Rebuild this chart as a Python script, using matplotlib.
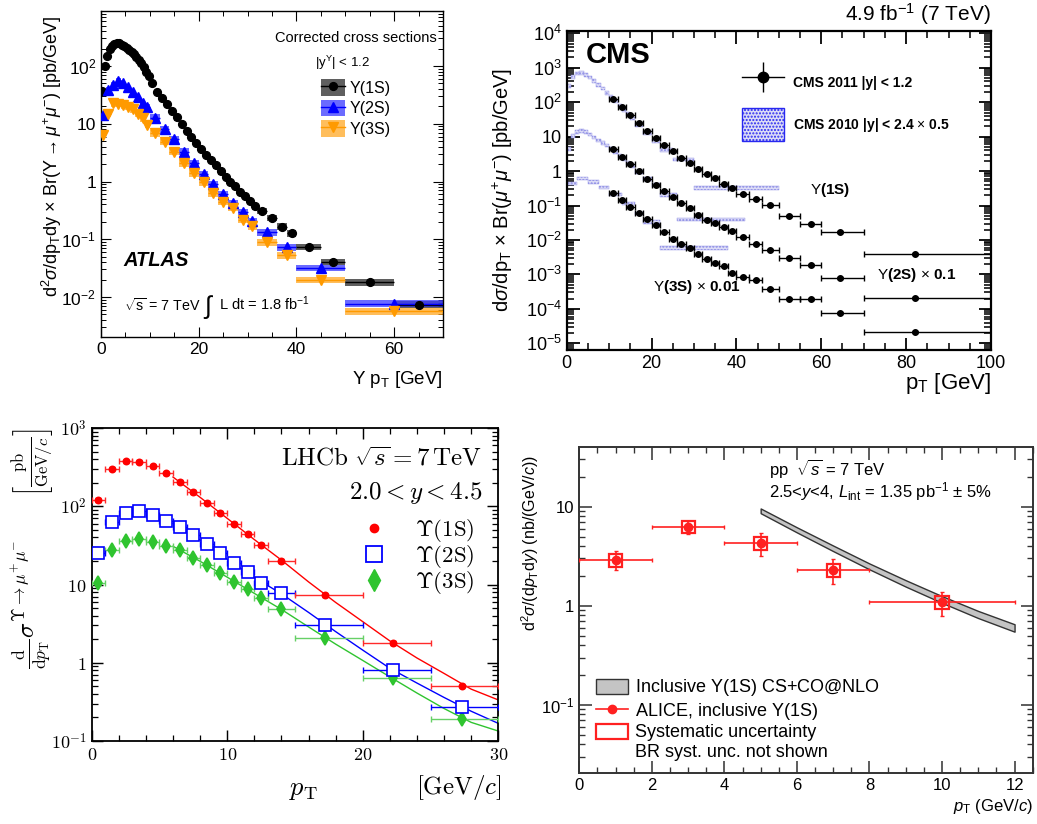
import numpy as np
import matplotlib
matplotlib.use("Agg")
import matplotlib.pyplot as plt
from matplotlib.patches import Patch
from matplotlib.lines import Line2D
from matplotlib.legend_handler import HandlerTuple
from matplotlib.ticker import FixedLocator, FuncFormatter, MultipleLocator, LogLocator, NullFormatter

plt.rcParams['font.family'] = ['Liberation Sans', 'DejaVu Sans']
plt.rcParams['mathtext.fontset'] = 'custom'
plt.rcParams['mathtext.rm'] = 'Liberation Sans'
plt.rcParams['mathtext.it'] = 'Liberation Sans:italic'
plt.rcParams['mathtext.bf'] = 'Liberation Sans:bold'
plt.rcParams['mathtext.sf'] = 'Liberation Sans'

# ======================= DATA =======================
# ---- ATLAS (|y|<1.2), pb/GeV ----
atlas_1s_edges = [0, 0.5, 1, 1.5, 2, 2.5, 3, 3.5, 4, 4.5, 5, 5.5, 6, 6.5, 7, 7.5, 8, 8.5, 9, 9.5, 10,
                  11, 12, 13, 14, 15, 16, 17, 18, 19, 20, 21, 22, 23, 24, 25, 26, 27, 28, 29, 30, 31, 32,
                  34, 36, 38, 40, 45, 50, 60, 70]
atlas_1s_vals = [37, 100, 150, 200, 225, 243, 250, 246, 234, 220, 205, 192, 177, 160, 143, 127, 111, 95, 80, 66,
                 51, 36, 28, 21.7, 16.9, 12.9, 9.9, 7.6, 5.8, 4.6, 3.66, 2.92, 2.37, 1.91, 1.51, 1.22, 0.98,
                 0.82, 0.65, 0.55, 0.46, 0.37,
                 0.31, 0.235, 0.166, 0.128, 0.074, 0.041, 0.018, 0.0074]
atlas_23s_edges = [0, 1, 2, 3, 4, 5, 6, 7, 8, 9, 10, 12, 14, 16, 18, 20, 22, 24, 26, 28, 30, 32, 36, 40, 50, 70]
atlas_2s_vals = [14, 38, 46, 55, 50, 43, 36, 29, 22.6, 19.3, 12.8, 8.0, 5.4, 3.3, 2.07, 1.34, 0.90, 0.61,
                 0.42, 0.30, 0.21, 0.131, 0.073, 0.032, 0.0077]
atlas_3s_vals = [6.4, 15, 22.5, 22, 21, 19.5, 18, 15, 12.4, 9.7, 6.8, 4.9, 3.3, 2.07, 1.39, 0.97, 0.63, 0.45,
                 0.35, 0.216, 0.168, 0.088, 0.053, 0.0198, 0.0057]
atlas_labels = ["\u03a5(1S)", "\u03a5(2S)", "\u03a5(3S)"]

# ---- CMS 2011 (|y|<1.2) ----
cms_pt = [11, 13, 15, 17, 19, 21, 23, 25, 27, 29, 31, 33, 35, 37, 39, 41.5, 44.5, 48, 52.5, 57.5, 64.5, 82]
cms_edges = [10, 12, 14, 16, 18, 20, 22, 24, 26, 28, 30, 32, 34, 36, 38, 40, 43, 46, 50, 55, 60, 70, 100]
cms_1s = [120, 74, 42, 25, 15, 9.0, 5.7, 3.8, 2.4, 1.75, 1.15, 0.83, 0.62, 0.43, 0.33, 0.22, 0.155, 0.102,
          0.051, 0.030, 0.017, 0.0039]
cms_2s = [4.3, 2.6, 1.58, 0.98, 0.60, 0.40, 0.26, 0.18, 0.115, 0.085, 0.053, 0.038, 0.032, 0.024, 0.018,
          0.012, 0.0075, 0.0051, 0.0031, 0.0019, 0.00080, 0.00021]
cms_3s = [0.225, 0.144, 0.093, 0.059, 0.040, 0.027, 0.017, 0.011, 0.0078, 0.0058, 0.0038, 0.0029, 0.0021,
          0.0017, 0.00107, 0.00083, 0.00069, 0.00037, 0.00020, 0.00019, 0.000075, 0.000021]
# ---- CMS 2010 (|y|<2.4, x0.5) ----
cms10_1s_edges = [0, 1, 2, 3, 4, 5, 6, 7, 8, 9, 10, 11, 12, 13, 14, 15, 16, 18, 20, 22, 25, 30, 50]
cms10_1s_vals = [300, 550, 680, 700, 620, 520, 410, 320, 250, 185, 140, 105, 80, 60, 45, 34, 22, 13, 7.5,
                 4.2, 2.2, 0.33]
cms10_2s_edges = [0, 1, 2, 3, 4, 5, 6, 7, 8, 9, 10, 11, 12, 13, 14, 15, 16, 18, 20, 22, 26, 42]
cms10_2s_vals = [4.5, 10.5, 13.5, 14.5, 13.5, 11.5, 9.5, 7.8, 6.6, 5.5, 4.6, 3.6, 2.8, 2.2, 1.75, 1.4,
                 0.95, 0.6, 0.4, 0.2, 0.04]
cms10_3s_edges = [0, 2.5, 5, 7.5, 10, 13, 16, 18, 22, 38]
cms10_3s_vals = [0.44, 0.62, 0.49, 0.34, 0.21, 0.115, 0.059, 0.034, 0.0058]

# ---- LHCb (2.0<y<4.5) ----
lhcb_edges = [0, 1, 2, 3, 4, 5, 6, 7, 8, 9, 10, 11, 12, 13, 15, 20, 25, 30]
lhcb_pt = [0.5, 1.5, 2.5, 3.5, 4.5, 5.5, 6.5, 7.5, 8.5, 9.5, 10.5, 11.5, 12.5, 14, 17.2, 22.2, 27.3]
lhcb_1s = [120, 302, 375, 371, 323, 263, 204, 152, 111, 82, 60, 44, 32, 20, 7.3, 1.78, 0.51]
lhcb_2s = [25.4, 63, 83, 86, 78, 65, 54, 43, 33, 25, 19, 14.5, 10.6, 7.7, 3.05, 0.80, 0.27]
lhcb_3s = [10.5, 27.7, 36.5, 38.4, 35, 31, 27.5, 22, 17.9, 14.1, 10.9, 8.7, 6.8, 4.8, 2.1, 0.63, 0.19]
lhcb_fit_pt = [6, 8, 10, 12, 14, 16, 18, 20, 22, 24, 26, 28, 30]
lhcb_fit_1s = [236, 130, 70, 37.5, 20.5, 10.8, 5.9, 3.35, 1.9, 1.15, 0.73, 0.46, 0.335]
lhcb_fit_2s = [60, 37, 21, 12.3, 7.6, 4.4, 2.5, 1.45, 0.85, 0.55, 0.36, 0.24, 0.168]
lhcb_fit_3s = [30.8, 19.8, 12.4, 7.7, 4.8, 2.87, 1.73, 1.07, 0.66, 0.41, 0.26, 0.173, 0.134]

# ---- ALICE (2.5<y<4), nb/(GeV/c) ----
alice_edges = [0, 2, 4, 6, 8, 12]
alice_pt = [1, 3, 5, 7, 10]
alice_vals = [2.9, 6.3, 4.3, 2.3, 1.08]
alice_stat_dn = [0.6, 1.0, 1.1, 0.63, 0.30]
alice_stat_up = [0.7, 0.9, 1.1, 0.69, 0.31]
alice_sys = [0.42, 0.9, 0.62, 0.33, 0.16]
alice_band_pt = [5, 6, 7, 8, 9, 10, 11, 12]
alice_band_hi = [9.6, 6.19, 4.05, 2.67, 1.81, 1.25, 0.885, 0.65]
alice_band_lo = [8.6, 5.5, 3.56, 2.33, 1.56, 1.07, 0.75, 0.547]

# ======================= FIGURE =======================
W, H = 1037, 824
fig = plt.figure(figsize=(W / 100, H / 100), dpi=100)


def axes_px(l, t, r, b):
    return fig.add_axes([l / W, 1 - b / H, (r - l) / W, (b - t) / H])


def ftext(x, y, s, **kw):
    kw.setdefault('va', 'center')
    return fig.text(x / W, 1 - y / H, s, **kw)


def root_ticks(ax, lw, maj=7, mnr=3.5, color='black'):
    ax.tick_params(which='both', direction='in', top=True, right=True, color=color)
    ax.tick_params(which='major', length=maj, width=lw * 0.8)
    ax.tick_params(which='minor', length=mnr, width=lw * 0.7)
    for s in ax.spines.values():
        s.set_linewidth(lw)
        s.set_color(color)


def log_label(v, pos):
    e = int(round(np.log10(v)))
    if e == 0:
        return '1'
    if e == 1:
        return '10'
    return r'$10^{%d}$' % e


def set_log_y(ax, emin, emax, fmt=log_label):
    ax.set_yscale('log')
    ax.yaxis.set_major_locator(FixedLocator([10.0 ** e for e in range(emin, emax + 1)]))
    ax.yaxis.set_major_formatter(FuncFormatter(fmt))
    ax.yaxis.set_minor_locator(LogLocator(base=10, subs=np.arange(2, 10), numticks=100))
    ax.yaxis.set_minor_formatter(NullFormatter())


OVERLAY = {tuple: HandlerTuple(ndivide=1)}

# ----------------------- ATLAS -----------------------
ax1 = axes_px(101, 11, 443, 337)
ax1.set_xlim(0, 70)
set_log_y(ax1, -2, 2)
ax1.set_ylim(2.03e-3, 896)
ax1.xaxis.set_major_locator(MultipleLocator(20))
ax1.xaxis.set_minor_locator(MultipleLocator(5))
root_ticks(ax1, 1.0)
ax1.tick_params(labelsize=12.5)
ATLAS_REL = 0.13
atlas_handles = []
for edges, vals, mk, mc, bc, ms, lab in [
        (atlas_1s_edges, atlas_1s_vals, 'o', 'black', '#2a2a2a', 5.6, atlas_labels[0]),
        (atlas_23s_edges, atlas_2s_vals, '^', '#0000ff', '#3a3aff', 6.8, atlas_labels[1]),
        (atlas_23s_edges, atlas_3s_vals, 'v', '#ff9a00', '#ffa826', 6.8, atlas_labels[2])]:
    e = np.array(edges, float)
    v = np.array(vals, float)
    lo, hi = e[:-1], e[1:]
    c = 0.5 * (lo + hi)
    ax1.bar(lo, v * 2 * ATLAS_REL, bottom=v * (1 - ATLAS_REL), width=hi - lo, align='edge',
            color=bc, alpha=0.75, lw=0, zorder=2)
    ax1.errorbar(c, v, xerr=0.5 * (hi - lo), fmt='none', ecolor=mc, elinewidth=1.0, zorder=3)
    ax1.plot(c, v, ls='none', marker=mk, color=mc, ms=ms, zorder=4)
    atlas_handles.append((Patch(facecolor=bc, alpha=0.75, lw=0),
                          Line2D([], [], color=mc, lw=1),
                          Line2D([], [], ls='none', color=mc, marker=mk, ms=ms)))
ax1.legend(atlas_handles, atlas_labels, handler_map=OVERLAY,
           loc='upper left', bbox_to_anchor=(0.625, 0.81), frameon=False, fontsize=11.5,
           handlelength=1.5, handleheight=1.2, labelspacing=0.25, handletextpad=0.3, borderaxespad=0)
ftext(437, 38, 'Corrected cross sections', ha='right', fontsize=10.5)
ftext(315, 63, r'|y$^{\Upsilon}$| < 1.2', ha='left', fontsize=9.5)
ftext(123, 261, 'ATLAS', weight='bold', style='italic', fontsize=14.5)
ftext(124, 305, r'$\sqrt{\mathrm{s}}$ = 7 TeV', fontsize=10.3)
ftext(203, 307, r'$\int$', fontsize=18)
ftext(219, 304, r'L dt = 1.8 fb$^{\mathrm{-1}}$', fontsize=10.5)
ftext(443, 380, r'$\Upsilon$ p$_{\mathrm{T}}$ [GeV]', ha='right', fontsize=13.5)
ftext(52, 156, r'd$^{2}\sigma$/dp$_{\mathrm{T}}$dy $\times$ Br($\Upsilon\rightarrow\mu^{+}\mu^{-}$) [pb/GeV]',
      rotation=90, ha='center', fontsize=13)

# ----------------------- CMS -----------------------
ax2 = axes_px(566.7, 30.7, 991, 350)
ax2.set_xlim(0, 100)
set_log_y(ax2, -5, 4)
ax2.set_ylim(6.4e-6, 1.19e4)
ax2.xaxis.set_major_locator(MultipleLocator(20))
ax2.xaxis.set_minor_locator(MultipleLocator(5))
root_ticks(ax2, 1.6, maj=9, mnr=5)
ax2.tick_params(labelsize=13)
CMS10_REL = 0.12
for edges, vals in [(cms10_1s_edges, cms10_1s_vals), (cms10_2s_edges, cms10_2s_vals),
                    (cms10_3s_edges, cms10_3s_vals)]:
    e = np.array(edges, float)
    v = np.array(vals, float)
    ax2.bar(e[:-1], v * 2 * CMS10_REL, bottom=v * (1 - CMS10_REL), width=np.diff(e), align='edge',
            facecolor='#dcdcf6', edgecolor='#8c8ce6', hatch='.....', lw=0.3, zorder=2)
CMS_YREL = 0.06
cpt = np.array(cms_pt, float)
ce = np.array(cms_edges, float)
for vals in [cms_1s, cms_2s, cms_3s]:
    v = np.array(vals, float)
    ax2.errorbar(cpt, v, xerr=[cpt - ce[:-1], ce[1:] - cpt], yerr=v * CMS_YREL, fmt='o',
                 color='black', ms=4, elinewidth=1.0, capsize=2, capthick=1.0, zorder=4)
cms_key = (Line2D([], [], color='black', lw=1.0),
           Line2D([], [], ls='none', color='black', marker='|', ms=22, mew=1.0),
           Line2D([], [], ls='none', color='black', marker='o', ms=7.5))
cms_patch = Patch(facecolor='#dcdcf6', edgecolor='#2828f0', hatch='.....', lw=1.0)
ax2.legend([cms_key, cms_patch], ['CMS 2011 |y| < 1.2', r'CMS 2010 |y| < 2.4 $\times$ 0.5'],
           handler_map=OVERLAY,
           loc='upper left', bbox_to_anchor=(0.40, 0.905), frameon=False,
           prop={'weight': 'bold', 'size': 10}, handlelength=3.0, handleheight=3.3,
           labelspacing=0.6, handletextpad=0.7, borderaxespad=0)
ftext(991, 14, r'4.9 fb$^{-1}$ (7 TeV)', ha='right', fontsize=15)
ftext(586, 55, 'CMS', weight='bold', fontsize=21)
ftext(810, 190, r'$\Upsilon$(1S)', weight='bold', fontsize=11)
ftext(877, 275, r'$\Upsilon$(2S) $\times$ 0.1', weight='bold', fontsize=11)
ftext(653, 287, r'$\Upsilon$(3S) $\times$ 0.01', weight='bold', fontsize=11)
ftext(991, 383, r'p$_{\mathrm{T}}$ [GeV]', ha='right', fontsize=16)
ftext(503, 190, r'd$\sigma$/dp$_{\mathrm{T}}$ $\times$ Br($\mu^{+}\mu^{-}$) [pb/GeV]', rotation=90,
      ha='center', fontsize=14.5)

# ----------------------- LHCb -----------------------
with plt.rc_context({'mathtext.fontset': 'cm', 'font.family': ['DejaVu Serif']}):
    ax3 = axes_px(91.7, 428, 498.3, 741)
    ax3.set_xlim(0, 30)
    set_log_y(ax3, -1, 3, fmt=lambda v, p: r'$10^{%d}$' % int(round(np.log10(v)))
              if int(round(np.log10(v))) not in (0, 1) else r'$%d$' % int(round(v)))
    ax3.set_ylim(0.1, 1000)
    ax3.xaxis.set_major_locator(MultipleLocator(10))
    ax3.xaxis.set_minor_locator(MultipleLocator(2))
    ax3.xaxis.set_major_formatter(FuncFormatter(lambda v, p: r'$%d$' % int(round(v))))
    root_ticks(ax3, 1.3, maj=8, mnr=4)
    ax3.tick_params(labelsize=13)
    ax3.get_xticklabels(which='both')
    ax3.get_yticklabels(which='both')
    le = np.array(lhcb_edges, float)
    lpt = np.array(lhcb_pt, float)
    xe = [lpt - le[:-1], le[1:] - lpt]
    LHCB_YREL = 0.05
    for vals, fit, mk, mc, ec, ms, mfc in [
            (lhcb_3s, lhcb_fit_3s, 'd', '#2fc42f', '#66d066', 7.5, '#2fc42f'),
            (lhcb_2s, lhcb_fit_2s, 's', '#0000ff', '#0000ff', 8.5, 'white'),
            (lhcb_1s, lhcb_fit_1s, 'o', '#ff0000', '#ff2a2a', 4.5, '#ff0000')]:
        v = np.array(vals, float)
        ax3.plot(lhcb_fit_pt, fit, color=mc, lw=1.0, zorder=2)
        ax3.errorbar(lpt, v, xerr=xe, yerr=v * LHCB_YREL, fmt='none', ecolor=ec, elinewidth=1.0,
                     capsize=2.5, capthick=1.0, zorder=3)
        ax3.plot(lpt, v, ls='none', marker=mk, ms=ms, mfc=mfc, mec=mc, mew=1.2, zorder=4)
    lh = [Line2D([], [], ls='none', marker='o', ms=6, color='#ff0000'),
          Line2D([], [], ls='none', marker='s', ms=11, mfc='white', mec='#0000ff', mew=1.3),
          Line2D([], [], ls='none', marker='d', ms=11, color='#2fc42f')]
    ax3.legend(lh, [r'$\Upsilon(1\mathrm{S})$', r'$\Upsilon(2\mathrm{S})$', r'$\Upsilon(3\mathrm{S})$'],
               loc='upper right', bbox_to_anchor=(0.965, 0.745), frameon=False, fontsize=16.5,
               handlelength=1.0, handletextpad=1.3, labelspacing=-0.05, borderaxespad=0)
    ftext(482, 459, r'$\mathrm{LHCb}\ \sqrt{s} = 7\,\mathrm{TeV}$', ha='right', fontsize=18)
    ftext(482, 493, r'$2.0 < y < 4.5$', ha='right', fontsize=18)
    ftext(32, 604, r'$\frac{\mathrm{d}}{\mathrm{d}p_{\mathrm{T}}}\sigma^{\Upsilon\to\mu^{+}\mu^{-}}$',
          rotation=90, ha='center', fontsize=18)
    ftext(33, 463, r'$\left[\frac{\mathrm{pb}}{\mathrm{GeV}/c}\right]$', rotation=90, ha='center',
          fontsize=17)
    ftext(303, 790, r'$p_{\mathrm{T}}$', ha='center', fontsize=19)
    ftext(502, 788, r'$[\mathrm{GeV}/c]$', ha='right', fontsize=18)

# ----------------------- ALICE -----------------------
ax4 = axes_px(579.3, 447.3, 1032.7, 772.7)
ax4.set_xlim(0, 12.5)
set_log_y(ax4, -1, 1)
ax4.set_ylim(0.0206, 39.8)
ax4.xaxis.set_major_locator(MultipleLocator(2))
ax4.xaxis.set_minor_locator(MultipleLocator(0.5))
root_ticks(ax4, 1.4, maj=9, mnr=4.5, color='#333333')
ax4.tick_params(labelsize=12)
ax4.fill_between(alice_band_pt, alice_band_lo, alice_band_hi, facecolor='#c4c4c4',
                 edgecolor='#333333', lw=1.0, zorder=2)
apt = np.array(alice_pt, float)
ae = np.array(alice_edges, float)
av = np.array(alice_vals, float)
asys = np.array(alice_sys, float)
ax4.bar(apt, 2 * asys, bottom=av - asys, width=0.36, fill=False, edgecolor='#ff2020', lw=1.6, zorder=3)
ax4.errorbar(apt, av, xerr=[apt - ae[:-1], ae[1:] - apt], yerr=[alice_stat_dn, alice_stat_up],
             fmt='o', color='#ff2020', ms=6, elinewidth=1.2, capsize=1.5, capthick=1.0, zorder=4)
ah = [Patch(facecolor='#c4c4c4', edgecolor='#333333', lw=1.0),
      Line2D([], [], color='#ff2020', marker='o', ms=6, lw=1.2),
      Patch(facecolor='none', edgecolor='#ff2020', lw=1.6),
      Patch(facecolor='none', edgecolor='none')]
ax4.legend(ah, [r'Inclusive $\Upsilon$(1S) CS+CO@NLO', r'ALICE, inclusive $\Upsilon$(1S)',
                'Systematic uncertainty', 'BR syst. unc. not shown'],
           loc='upper left', bbox_to_anchor=(0.02, 0.315), frameon=False, fontsize=13,
           handlelength=1.8, handleheight=0.9, labelspacing=0.12, handletextpad=0.4, borderaxespad=0)
ftext(769, 468, r'pp  $\sqrt{s}$ = 7 TeV', fontsize=12)
ftext(769, 492, r'2.5<$y$<4, $L_{\mathrm{int}}$ = 1.35 pb$^{-1}$ $\pm$ 5%', fontsize=12)
ftext(1033, 807, r'$p_{\mathrm{T}}$ (GeV/$c$)', ha='right', fontsize=12)
ftext(530, 543, r'd$^{2}\sigma$/(d$p_{\mathrm{T}}$d$y$) (nb/(GeV/$c$))', rotation=90, ha='center',
      fontsize=11.5)

fig.savefig('out.png', dpi=100)
